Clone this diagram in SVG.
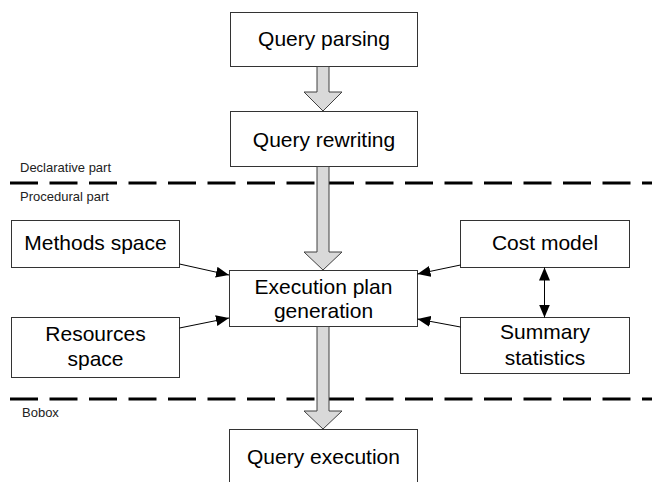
<svg xmlns="http://www.w3.org/2000/svg" width="652" height="482" viewBox="0 0 652 482">
<style>
.box{fill:#fff;stroke:#333;stroke-width:1}
.t{font-family:"Liberation Sans",Arial,sans-serif;font-size:21px;fill:#000;text-anchor:middle}
.s{font-family:"Liberation Sans",Arial,sans-serif;font-size:13px;fill:#222}
.dash{stroke:#000;stroke-width:3;stroke-dasharray:28 11.5;fill:none}
.blk{fill:#d9d9d9;stroke:#404040;stroke-width:1}
.ln{stroke:#000;stroke-width:1;fill:none;marker-end:url(#ah)}
</style>
<defs>
<marker id="ah" markerUnits="userSpaceOnUse" markerWidth="13" markerHeight="11" refX="13" refY="5.5" orient="auto-start-reverse" viewBox="0 0 13 11">
<path d="M0,0 L13,5.5 L0,11 Z" fill="#000"/>
</marker>
</defs>
<rect width="652" height="482" fill="#fff"/>
<g id="separators">
<line class="dash" x1="10" y1="183" x2="652" y2="183"/>
<line class="dash" x1="10" y1="399" x2="652" y2="399"/>
<text class="s" x="20" y="172">Declarative part</text>
<text class="s" x="20" y="201">Procedural part</text>
<text class="s" x="22" y="417">Bobox</text>
</g>
<g id="query-parsing">
<rect class="box" x="230.5" y="12.5" width="187" height="54"/>
<text class="t" x="324" y="46">Query parsing</text>
</g>
<g id="query-rewriting">
<rect class="box" x="230.5" y="111.5" width="187" height="55"/>
<text class="t" x="324" y="147">Query rewriting</text>
</g>
<g id="methods-space">
<rect class="box" x="11.5" y="220.5" width="168" height="47"/>
<text class="t" x="95.5" y="250">Methods space</text>
</g>
<g id="resources-space">
<rect class="box" x="11.5" y="317.5" width="168" height="60"/>
<text class="t" x="95.5" y="341">Resources</text>
<text class="t" x="95.5" y="366">space</text>
</g>
<g id="execution-plan">
<rect class="box" x="229.5" y="270.5" width="188" height="56"/>
<text class="t" x="323.5" y="294">Execution plan</text>
<text class="t" x="323.5" y="318">generation</text>
</g>
<g id="cost-model">
<rect class="box" x="460.5" y="220.5" width="169" height="47"/>
<text class="t" x="545" y="250">Cost model</text>
</g>
<g id="summary-statistics">
<rect class="box" x="460.5" y="317.5" width="169" height="56"/>
<text class="t" x="545" y="339">Summary</text>
<text class="t" x="545" y="365">statistics</text>
</g>
<g id="query-execution">
<rect class="box" x="229.5" y="429.5" width="188" height="60"/>
<text class="t" x="323.5" y="464">Query execution</text>
</g>
<g id="connectors">
<path class="blk" d="M317,66.5 L329,66.5 L329,92 L342,92 L323,111 L304,92 L317,92 Z"/>
<path class="blk" d="M317,166.5 L329,166.5 L329,252 L342,252 L323,270 L304,252 L317,252 Z"/>
<path class="blk" d="M317,326.5 L329,326.5 L329,411 L342,411 L323,429 L304,411 L317,411 Z"/>
<line class="ln" x1="179.5" y1="264" x2="229" y2="275"/>
<line class="ln" x1="179.5" y1="328" x2="229" y2="318"/>
<line class="ln" x1="460.5" y1="265" x2="417.5" y2="274"/>
<line class="ln" x1="460.5" y1="327" x2="417.5" y2="319"/>
<line class="ln" x1="544.5" y1="267.5" x2="544.5" y2="317.5" marker-start="url(#ah)"/>
</g>
</svg>
